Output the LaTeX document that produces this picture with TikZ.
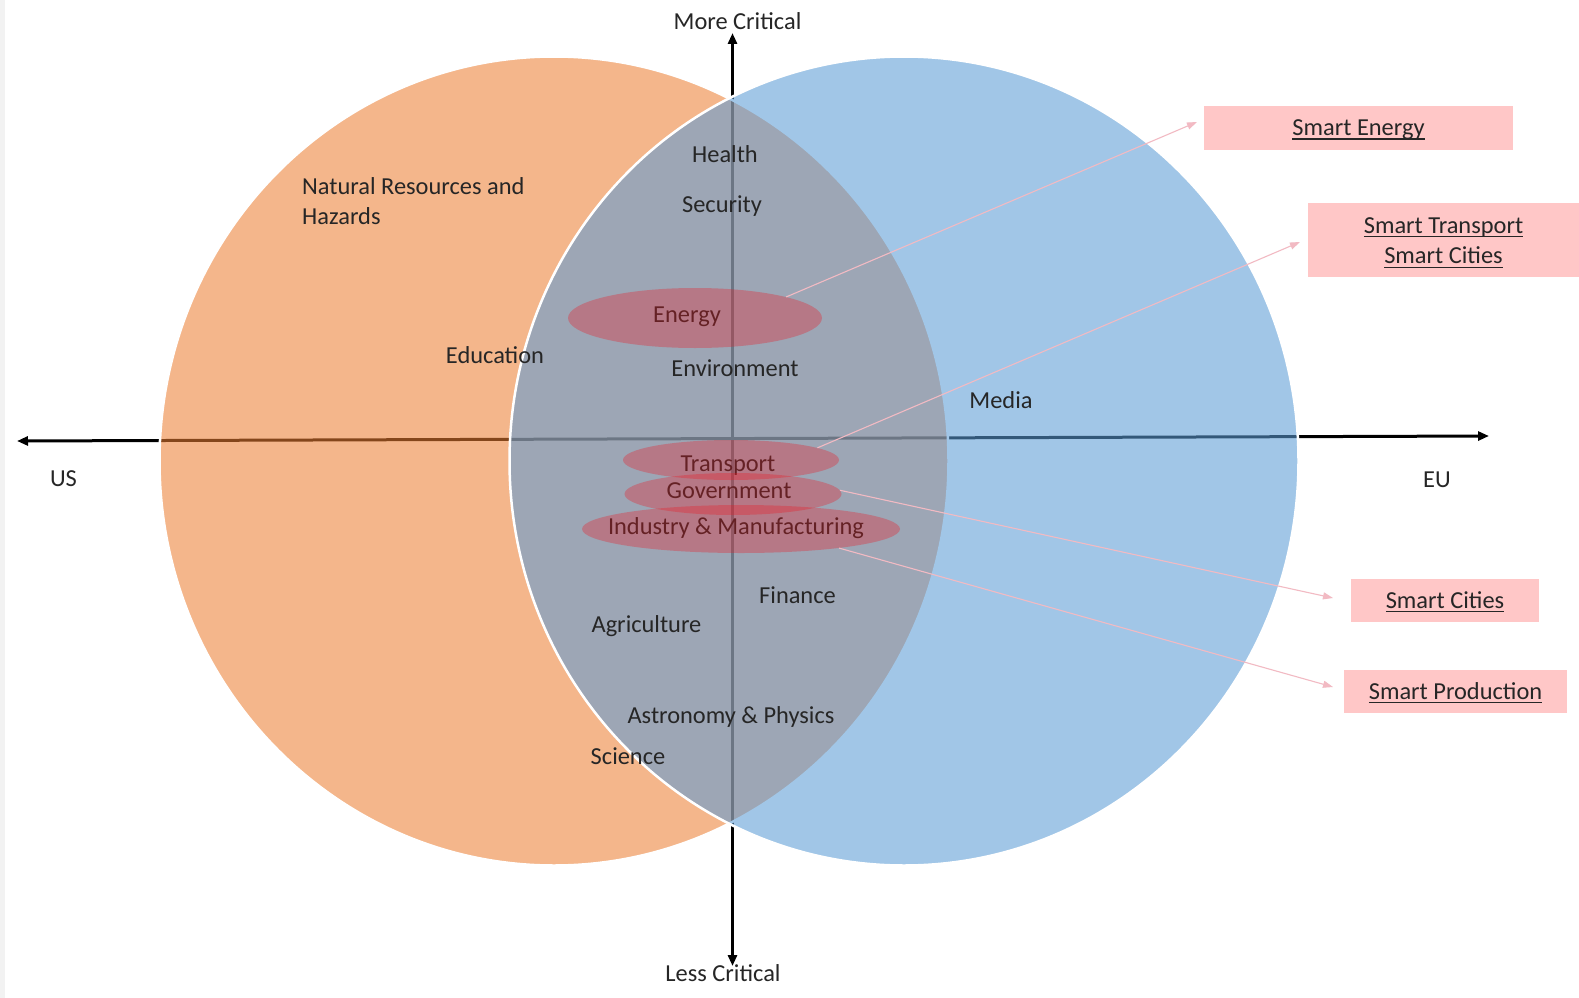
\documentclass[tikz,border=0pt]{standalone}
\usepackage{fontspec}
\setmainfont{Carlito}
\usetikzlibrary{shapes.geometric,arrows.meta}
\definecolor{txtgray}{RGB}{38,38,38}
\definecolor{usorange}{RGB}{237,125,49}
\definecolor{eublue}{RGB}{91,155,213}
\definecolor{boxpink}{RGB}{255,199,199}
\definecolor{linkpink}{RGB}{242,186,195}
\definecolor{hotred}{RGB}{235,25,35}
\newcommand{\ulx}[1]{\setbox0\hbox{#1}\rlap{\rule[-4pt]{\wd0}{1.3pt}}\box0}
\begin{document}
\begin{tikzpicture}[x=1pt,y=-1pt,
  lbl/.style={text=txtgray,font=\fontsize{24.4}{30.5}\selectfont,inner sep=0pt,anchor=base,yshift=-1.5pt},
  hot/.style={ellipse,fill=hotred,fill opacity=0.32,inner sep=0pt,draw=none},
  smartbox/.style={fill=boxpink,text=txtgray,font=\fontsize{24.4}{30.5}\selectfont,inner sep=0pt},
  link/.style={draw=linkpink,line width=1.1pt,-{Triangle[length=10pt,width=7pt]}},
  axisline/.style={draw=black,line width=3pt,{Triangle[length=11pt,width=9pt]}-{Triangle[length=11pt,width=9pt]}},
  venn/.style={ellipse,inner sep=0pt,minimum width=789pt,minimum height=809pt,draw=white,line width=2.5pt}]
\useasboundingbox (0,0) rectangle (1579,998);
\fill[white] (0,0) rectangle (1579,998);
\fill[black!5] (0,0) rectangle (5,998);

% axes
\coordinate (vtop) at (732.5,33);
\coordinate (vbot) at (732.5,966);
\coordinate (hleft) at (17,441);
\coordinate (hright) at (1489,436);
\draw[axisline] (vbot) -- (vtop);
\draw[axisline] (hleft) -- (hright);

% venn circles
\node[venn,fill=usorange,fill opacity=0.56] (us) at (554,461) {};
\node[venn,fill=eublue,fill opacity=0.57] (eu) at (904,461) {};

% axis labels
\node[lbl] (more) at (737.5,27.8) {More Critical};
\node[lbl] (less) at (723,979.8) {Less Critical};
\node[lbl] (uslbl) at (63.5,484.8) {US};
\node[lbl] (eulbl) at (1437,485.8) {EU};

% sector labels
\node[lbl,anchor=base west] (natres) at (302,192.8) {\begin{tabular}[t]{@{}l@{}}Natural Resources and\\Hazards\end{tabular}};
\node[lbl] (health) at (725,160.8) {Health};
\node[lbl] (security) at (722,210.8) {Security};
\node[lbl] (energy) at (687,320.5) {Energy};
\node[lbl] (education) at (495,362.3) {Education};
\node[lbl] (environment) at (735,375.3) {Environment};
\node[lbl] (media) at (1001,406.8) {Media};
\node[lbl] (transport) at (728,470) {Transport};
\node[lbl] (government) at (729,496.5) {Government};
\node[lbl] (industry) at (736,533) {Industry \& Manufacturing};
\node[lbl] (finance) at (797.5,601.8) {Finance};
\node[lbl] (agriculture) at (646.5,630.8) {Agriculture};
\node[lbl] (astro) at (731,721.8) {Astronomy \& Physics};
\node[lbl] (science) at (628,762.8) {Science};

% highlighted ellipses
\node[hot,minimum width=254pt,minimum height=60pt] (eE) at (695,318) {};
\node[hot,minimum width=216pt,minimum height=40pt] (eT) at (731,460) {};
\node[hot,minimum width=217pt,minimum height=42pt] (eG) at (733,494) {};
\node[hot,minimum width=318pt,minimum height=48pt] (eI) at (741,529) {};

% boxes
\node[smartbox,minimum width=309pt,minimum height=44pt,text height=15.6pt,text depth=0pt] (bE) at (1358.5,128) {\ulx{Smart Energy}};
\node[smartbox,minimum width=271pt,minimum height=74pt,text height=10pt,text depth=23.2pt] (bT) at (1443.5,240) {\begin{tabular}[t]{@{}c@{}}\ulx{Smart Transport}\\\ulx{Smart Cities}\end{tabular}};
\node[smartbox,minimum width=188pt,minimum height=43pt,text height=15.6pt,text depth=0pt] (bC) at (1445,600.5) {\ulx{Smart Cities}};
\node[smartbox,minimum width=223pt,minimum height=43pt,text height=15.6pt,text depth=0pt] (bP) at (1455.5,691.5) {\ulx{Smart Production}};

% links
\coordinate (tE) at (1197,122);
\coordinate (tT) at (1300,242);
\coordinate (tG) at (1333,598);
\coordinate (tI) at (1333,687);
\draw[link] (eE.13) -- (tE);
\draw[link] (eT.8) -- (tT);
\draw[link] (eG.2) -- (tG);
\draw[link] (eI.-11) -- (tI);
\end{tikzpicture}
\end{document}
